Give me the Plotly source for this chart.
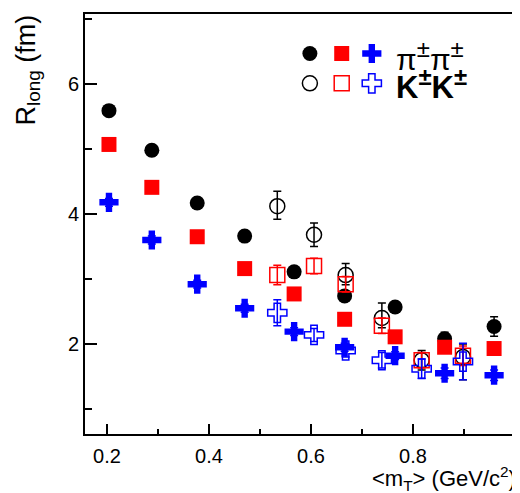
import plotly.graph_objects as go

# ---- data ----
pi_x = [0.204, 0.288, 0.377, 0.470, 0.567, 0.666, 0.765, 0.862, 0.959]
pi_circle = [5.59, 4.98, 4.17, 3.66, 3.11, 2.74, 2.57, 2.08, 2.27]
pi_circle_err = [0.08, 0.08, 0.08, 0.08, 0.08, 0.08, 0.08, 0.10, 0.15]
pi_square = [5.07, 4.41, 3.65, 3.16, 2.77, 2.38, 2.11, 1.95, 1.93]
pi_square_err = [0.06, 0.06, 0.06, 0.06, 0.06, 0.06, 0.06, 0.08, 0.08]
pi_cross = [4.18, 3.60, 2.92, 2.55, 2.19, 1.95, 1.82, 1.55, 1.52]
pi_cross_err = [0.06, 0.06, 0.06, 0.06, 0.06, 0.06, 0.06, 0.08, 0.08]

k_x = [0.534, 0.606, 0.668, 0.739, 0.817, 0.898]
k_circle = [4.12, 3.68, 3.06, 2.40, 1.75, 1.80]
k_circle_up = [0.23, 0.18, 0.18, 0.23, 0.15, 0.20]
k_circle_dn = [0.20, 0.18, 0.15, 0.15, 0.15, 0.35]
k_square = [3.06, 3.20, 2.92, 2.28, 1.75, 1.82]
k_square_err = [0.15, 0.12, 0.12, 0.12, 0.12, 0.15]
k_cross = [2.48, 2.14, 1.90, 1.75, 1.62, 1.73]
k_cross_err = [0.20, 0.10, 0.10, 0.12, 0.15, 0.28]

x_ticks = [0.2, 0.4, 0.6, 0.8, 1.0]
x_ticklabels = ["0.2", "0.4", "0.6", "0.8", "1"]
y_ticks = [2, 4, 6]
y_ticklabels = ["2", "4", "6"]

FONT = "Liberation Sans, Arial, Helvetica, sans-serif"
BLACK = "#000000"
RED = "#ff0000"
BLUE = "#0000ff"

fig = go.Figure()


def add(x, y, sym, color, size, eup, edn=None, lw=0):
    err = dict(type="data", array=eup, color=color,
               thickness=1.5, width=4, visible=True)
    if edn is not None:
        err["symmetric"] = False
        err["arrayminus"] = edn
    fig.add_trace(go.Scatter(
        x=x, y=y, mode="markers", error_y=err,
        marker=dict(symbol=sym, color=color, size=size,
                    line=dict(color=color, width=lw)),
        showlegend=False, cliponaxis=False))


# pions (filled)
add(pi_x, pi_circle, "circle", BLACK, 15, pi_circle_err)
add(pi_x, pi_square, "square", RED, 15, pi_square_err)
add(pi_x, pi_cross, "cross", BLUE, 16, pi_cross_err)
# kaons (open)
add(k_x, k_circle, "circle-open", BLACK, 15, k_circle_up, k_circle_dn, lw=1.5)
add(k_x, k_square, "square-open", RED, 15, k_square_err, lw=1.5)
add(k_x, k_cross, "cross-open", BLUE, 16, k_cross_err, lw=1.5)

# legend symbols on an overlay axis (0..1 box coordinates)
leg_u = [0.523, 0.597, 0.667]
leg_v = [0.906, 0.835]
leg_syms = [["circle", "square", "cross"], ["circle-open", "square-open", "cross-open"]]
leg_cols = [BLACK, RED, BLUE]
for r in range(2):
    for c in range(3):
        fig.add_trace(go.Scatter(
            x=[leg_u[c]], y=[leg_v[r]], mode="markers", xaxis="x2", yaxis="y2",
            marker=dict(symbol=leg_syms[r][c], color=leg_cols[c],
                        size=15 if c < 2 else 16,
                        line=dict(color=leg_cols[c], width=0 if r == 0 else 1.5)),
            showlegend=False, hoverinfo="skip"))

# the page body has an 8px margin, so the figure is drawn 8px in from the corner
OFF = 8
W, H = 520 - OFF, 493 - OFF
ml, mr, mt, mb = 85 - OFF, 5, 14 - OFF, 59

fig.update_layout(
    width=W, height=H,
    margin=dict(l=ml, r=mr, t=mt, b=mb, autoexpand=False),
    paper_bgcolor="white", plot_bgcolor="white",
    font=dict(family=FONT, color=BLACK, size=20),
    xaxis=dict(range=[0.157, 1.0], showgrid=False, zeroline=False,
               showline=True, linecolor=BLACK, linewidth=2, mirror=True,
               tickmode="array", tickvals=x_ticks, ticktext=x_ticklabels,
               ticks="inside", ticklen=10, tickwidth=1.5, tickcolor=BLACK,
               tickfont=dict(size=20, family=FONT), automargin=False,
               ticklabelstandoff=3,
               minor=dict(ticks="inside", ticklen=5, tickwidth=1.5, tickcolor=BLACK,
                          tickvals=[0.3, 0.5, 0.7, 0.9])),
    yaxis=dict(range=[0.615, 7.077], showgrid=False, zeroline=False,
               showline=True, linecolor=BLACK, linewidth=2, mirror=True,
               tickmode="array", tickvals=y_ticks, ticktext=y_ticklabels,
               ticks="inside", ticklen=12, tickwidth=1.5, tickcolor=BLACK,
               tickfont=dict(size=20, family=FONT), automargin=False,
               minor=dict(ticks="inside", ticklen=7, tickwidth=1.5, tickcolor=BLACK,
                          tickvals=[1, 3, 5, 7])),
    xaxis2=dict(range=[0, 1], overlaying="x", visible=False),
    yaxis2=dict(range=[0, 1], overlaying="y", visible=False),
)

pw = W - ml - mr
ph = H - mt - mb


def px_x(p):
    return (p - OFF - ml) / pw


def px_y(p):
    return 1 - (p - OFF - mt) / ph


SUP = '<sup><span style="font-size:24px">±</span></sup>'
fig.add_annotation(text="π" + SUP + "π" + SUP, xref="paper", yref="paper",
                   x=px_x(394), y=px_y(56), xanchor="left", yanchor="middle",
                   showarrow=False, font=dict(size=30, family=FONT))
fig.add_annotation(text="<b>K" + SUP + "K" + SUP + "</b>", xref="paper", yref="paper",
                   x=px_x(394), y=px_y(84), xanchor="left", yanchor="middle",
                   showarrow=False, font=dict(size=31, family=FONT))
fig.add_annotation(text="<m<sub>T</sub>> (GeV/c<sup>2</sup>)", xref="paper", yref="paper",
                   x=px_x(518), y=px_y(478), xanchor="right", yanchor="middle",
                   showarrow=False, font=dict(size=22, family=FONT))
fig.add_annotation(text="R<sub>long</sub> (fm)", xref="paper", yref="paper",
                   x=px_x(27), y=px_y(12), xanchor="center", yanchor="top",
                   textangle=-90, showarrow=False, font=dict(size=27, family=FONT))

fig.write_html("out.html")
